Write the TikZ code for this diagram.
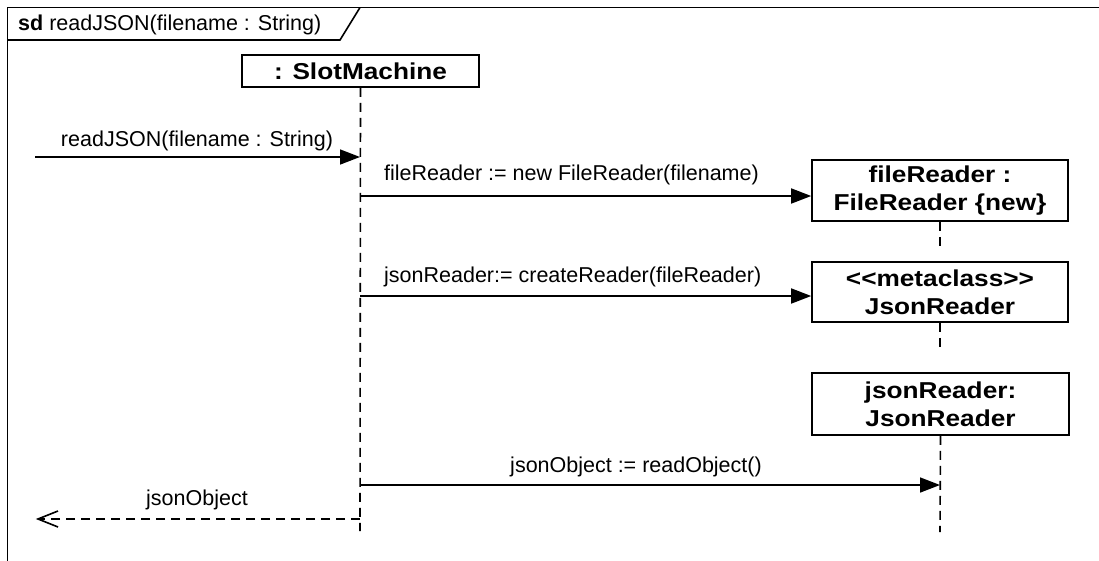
\documentclass[tikz,border=0pt]{standalone}
\usepackage{fontspec}
\setmainfont{Liberation Sans}
\newfontfamily\msgfont{Liberation Sans}
\newfontfamily\boxfont{Liberation Sans}[FakeStretch=1.14]
\usetikzlibrary{arrows.meta,calc}

\tikzset{
  lw/.style={line width=1.6pt},
  frameline/.style={lw, line join=miter},
  lifehead/.style={draw, lw, fill=white, inner sep=0pt, align=center,
    font=\boxfont\bfseries\fontsize{23}{28}\selectfont},
  lifeline/.style={lw, dash pattern=on 9pt off 6pt},
  call/.style={lw, -{Triangle[length=20pt,width=15pt]}},
  reply/.style={lw, dash pattern=on 9pt off 6pt},
  openhead/.style={lw, line join=miter, line cap=butt},
  msglabel/.style={inner sep=0pt, font=\msgfont\fontsize{21.5}{26}\selectfont},
}

\begin{document}
\begin{tikzpicture}[x=1pt,y=-1pt]
\useasboundingbox (0,0) rectangle (1099,560);
\clip (0,0) rectangle (1099,560);
\fill[white] (0,0) rectangle (1099,560);

% interaction frame and its name tag
\draw[frameline] (7.5,600) -- (7.5,7.5) -- (1140,7.5);
\draw[frameline] (7.5,40) -- (340,40) -- (360,7.5);
\node[msglabel, anchor=base west] (title) at (18,30)
  {\bfseries sd\mdseries{} readJSON(filename : String)};

% lifeline heads
\node[lifehead, minimum width=237pt, minimum height=32pt] (slot) at (360.5,71) {: SlotMachine};
\node[lifehead, minimum width=256pt, minimum height=61pt] (fr) at (940,190.5) {fileReader :\\FileReader \{new\}};
\node[lifehead, minimum width=256pt, minimum height=60pt] (meta) at (940,292) {<<metaclass>>\\JsonReader};
\node[lifehead, minimum width=257pt, minimum height=62pt] (jr) at (940.5,404) {jsonReader:\\JsonReader};

% lifeline ends
\coordinate (slotend) at (360,531);
\coordinate (frend) at (940,250);
\coordinate (metaend) at (940,348);
\coordinate (jrend) at (940,532);

\draw[lifeline] (slot.south) -- (slotend);
\draw[lifeline] (fr.south) -- (frend);
\draw[lifeline] (meta.south) -- (metaend);
\draw[lifeline] (jr.south) -- (jrend);

% message points
\coordinate (gate) at (35,157);
\coordinate (m1) at (360,157);
\coordinate (m2) at (360,196);
\coordinate (m3) at (360,296);
\coordinate (m4) at (360,485);
\coordinate (m4e) at (940,485);
\coordinate (m5) at (360,519);
\coordinate (out) at (38,519);

% messages
\draw[call] (gate) -- (m1);
\node[msglabel, anchor=base] (l1) at (197,146) {readJSON(filename : String)};

\draw[call] (m2) -- (m2 -| fr.west);
\node[msglabel, anchor=base west] (l2) at (384,180) {fileReader := new FileReader(filename)};

\draw[call] (m3) -- (m3 -| meta.west);
\node[msglabel, anchor=base west] (l3) at (384,282) {jsonReader:= createReader(fileReader)};

\draw[call] (m4) -- (m4e);
\node[msglabel, anchor=base] (l4) at (636,472) {jsonObject := readObject()};

% reply message with an open arrowhead
\draw[reply] (m5) -- (out);
\draw[openhead] ($(out)+(20,-8)$) -- (out) -- ($(out)+(20,8)$);
\node[msglabel, anchor=base] (l5) at (197,505) {jsonObject};
\end{tikzpicture}
\end{document}
